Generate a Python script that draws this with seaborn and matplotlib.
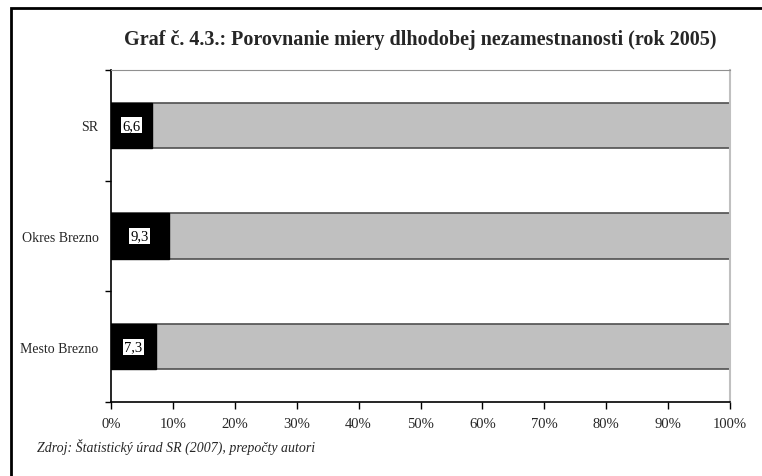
import matplotlib
matplotlib.use("Agg")
import matplotlib.pyplot as plt
import seaborn as sns
import pandas as pd
from matplotlib.patches import Rectangle
from matplotlib.ticker import FixedLocator

# data
regions = ["SR", "Okres Brezno", "Mesto Brezno"]
long_term = [6.6, 9.3, 7.3]
total = [100, 100, 100]
xtick_labels = ["0%", "10%", "20%", "30%", "40%", "50%", "60%", "70%", "80%", "90%", "100%"]

df = pd.DataFrame({"region": regions, "long": long_term, "total": total})

sns.set_style("white")
plt.rcParams["font.family"] = ["Liberation Serif", "DejaVu Serif"]

fig = plt.figure(figsize=(7.62, 4.77), dpi=100)
ax = fig.add_axes([111 / 762, 1 - 403 / 477, 619 / 762, 332 / 477])

sns.barplot(data=df, x="total", y="region", orient="h", color="#c0c0c0",
            edgecolor="#505050", linewidth=1.2, width=0.41, saturation=1, ax=ax)
sns.barplot(data=df, x="long", y="region", orient="h", color="black",
            edgecolor="black", linewidth=1, width=0.41, saturation=1, ax=ax)

# value labels in white boxes
for i, v in enumerate(long_term):
    ax.text(v / 2, i, f"{v:.1f}".replace(".", ","), ha="center", va="center",
            fontsize=10.5, color="black",
            bbox=dict(facecolor="white", edgecolor="none", pad=1.0))

ax.set_xlim(0, 100)
ax.set_ylim(2.5, -0.5)
ax.set_xticks(range(0, 101, 10))
ax.set_xticklabels(xtick_labels, fontsize=10.5)
ax.set_xlabel("")
ax.set_ylabel("")
ax.tick_params(axis="x", direction="out", length=5, width=1, color="black", pad=6, bottom=True)
ax.tick_params(axis="y", which="major", length=0, pad=9, labelsize=10)
ax.yaxis.set_minor_locator(FixedLocator([-0.5, 0.5, 1.5, 2.5]))
ax.tick_params(axis="y", which="minor", direction="out", length=4, width=1, color="black", left=True)

for s in ["left", "bottom"]:
    ax.spines[s].set_color("black")
    ax.spines[s].set_linewidth(1.2)
ax.spines["top"].set_color("#909090")
ax.spines["right"].set_color("#c0c0c0")
ax.spines["right"].set_linewidth(1.5)

fig.text(420 / 762, 1 - 40 / 477, "Graf č. 4.3.: Porovnanie miery dlhodobej nezamestnanosti (rok 2005)",
         ha="center", va="center", fontsize=14.5, fontweight="bold")
fig.text(37 / 762, 1 - 447 / 477, "Zdroj: Štatistický úrad SR (2007), prepočty autori",
         ha="left", va="center", fontsize=10, style="italic")

# outer frame, cut off at right and bottom like the source
fig.patches.append(Rectangle((11 / 762, -0.2), 1.2, 1.2 - 9 / 477, transform=fig.transFigure,
                             fill=False, edgecolor="black", linewidth=2, clip_on=False))

fig.savefig("out.png", dpi=100)
